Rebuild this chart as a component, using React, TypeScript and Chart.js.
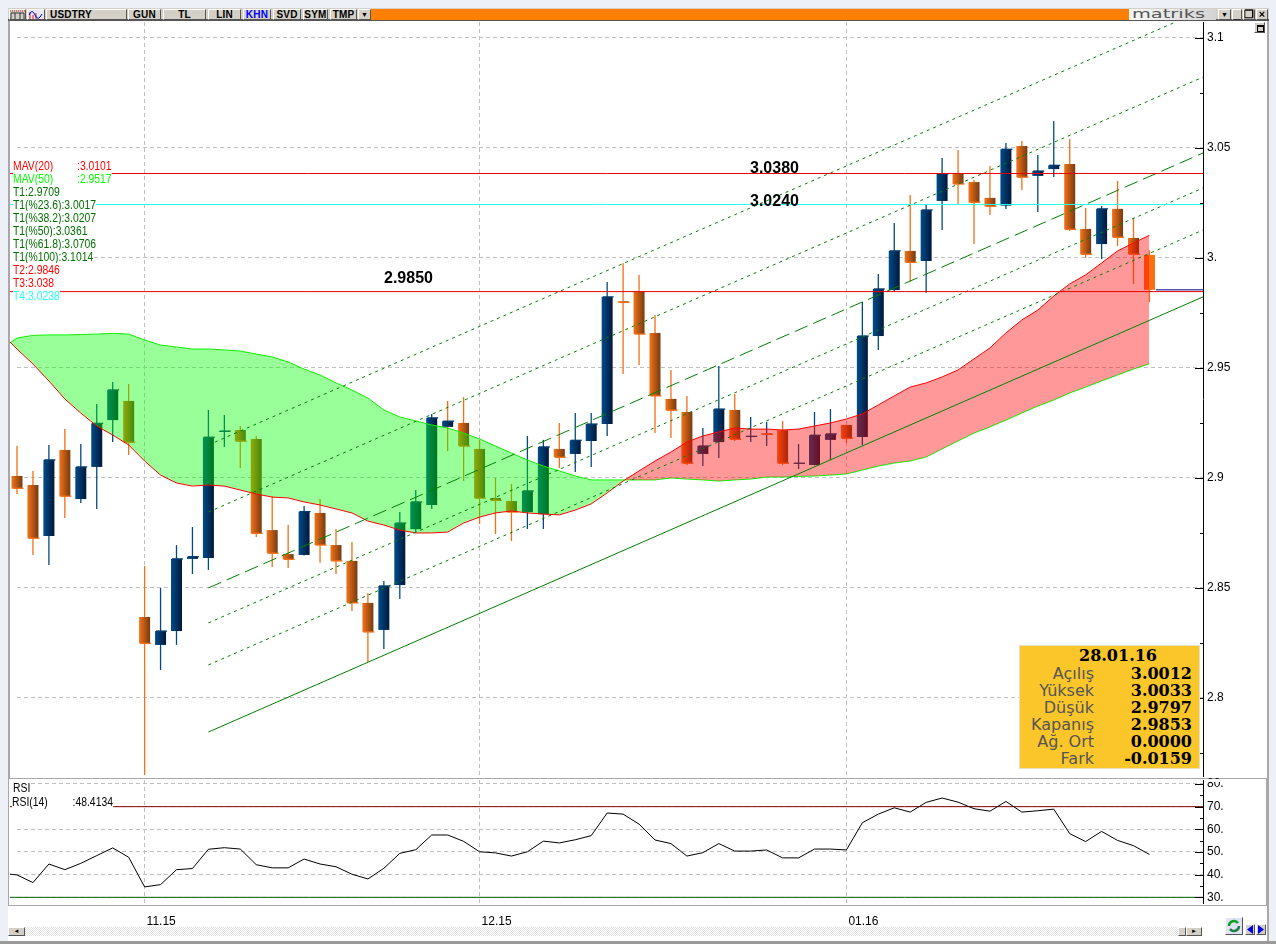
import React, { useEffect, useRef } from "react";
import { Chart, registerables } from "chart.js";

Chart.register(...registerables);

// ---------- data ----------
const opens = [
  2.9007, 2.8966, 2.8734, 2.9125, 2.8902, 2.9048, 2.9261, 2.9348, 2.8366, 2.8239, 2.8302, 2.863,
  2.8634, 2.9207, 2.9216, 2.9175, 2.8761, 2.8652, 2.8648, 2.8839, 2.8693, 2.8621, 2.843, 2.8307,
  2.8511, 2.8765, 2.8875, 2.923, 2.9248, 2.913, 2.8907, 2.8893, 2.8843, 2.8833, 2.913, 2.9107,
  2.9166, 2.9243, 2.9801, 2.9846, 2.9657, 2.9357, 2.9298, 2.9107, 2.9161, 2.9307, 2.9186, 2.9201,
  2.9215, 2.9063, 2.9057, 2.9171, 2.9239, 2.9184, 2.9643, 2.9852, 3.003, 2.9984, 3.0257, 3.038,
  3.0343, 3.0271, 3.0236, 3.0507, 3.0371, 3.0402, 3.0425, 3.013, 3.0061, 3.0221, 3.0089, 3.0012,
];
const closes = [
  2.8951, 2.8724, 2.908, 2.8915, 2.9048, 2.9246, 2.9398, 2.916, 2.8246, 2.8302, 2.863, 2.864,
  2.9183, 2.9211, 2.9165, 2.8746, 2.8656, 2.8628, 2.8845, 2.8693, 2.8621, 2.843, 2.8298, 2.8507,
  2.8793, 2.8889, 2.9271, 2.9256, 2.9143, 2.8906, 2.8896, 2.8843, 2.8939, 2.9139, 2.9092, 2.9169,
  2.9243, 2.9821, 2.9796, 2.9652, 2.9371, 2.9306, 2.9065, 2.9143, 2.9311, 2.9174, 2.9187, 2.9196,
  2.9065, 2.9065, 2.9192, 2.9198, 2.9178, 2.9643, 2.9857, 3.003, 2.9978, 3.0216, 3.038, 3.0334,
  3.0251, 3.0233, 3.0492, 3.0365, 3.0393, 3.0419, 3.0128, 3.0015, 3.0221, 3.0092, 3.0015, 2.9853,
];
const highs = [
  2.9143, 2.903, 2.9148, 2.9221, 2.9152, 2.9334, 2.9434, 2.9425, 2.8598, 2.8498, 2.8693, 2.8775,
  2.9307, 2.9284, 2.9234, 2.9189, 2.8916, 2.8784, 2.8871, 2.8902, 2.8766, 2.8707, 2.8475, 2.853,
  2.8843, 2.8943, 2.9289, 2.9348, 2.9366, 2.9171, 2.8998, 2.8971, 2.9189, 2.9171, 2.9248, 2.9293,
  2.9293, 2.9889, 2.9974, 2.9921, 2.9739, 2.9489, 2.9371, 2.9225, 2.9507, 2.938, 2.9275, 2.9252,
  2.9257, 2.9152, 2.9298, 2.9311, 2.9239, 2.9798, 2.9925, 3.0157, 3.0284, 3.0239, 3.0452, 3.0489,
  3.0352, 3.0416, 3.0521, 3.053, 3.0466, 3.0621, 3.0539, 3.0225, 3.0234, 3.0348, 3.018, 3.0033,
];
const lows = [
  2.8925, 2.8648, 2.8602, 2.8816, 2.8884, 2.8857, 2.9161, 2.9102, 2.7648, 2.8125, 2.8239, 2.8561,
  2.858, 2.9139, 2.9043, 2.873, 2.8593, 2.8589, 2.8645, 2.8613, 2.8561, 2.8393, 2.8161, 2.8221,
  2.8448, 2.8748, 2.8857, 2.9121, 2.8984, 2.8789, 2.8743, 2.8711, 2.8766, 2.8766, 2.9043, 2.9025,
  2.9048, 2.9189, 2.9471, 2.9511, 2.9202, 2.918, 2.9057, 2.9052, 2.9089, 2.9166, 2.9161, 2.9143,
  2.9057, 2.9039, 2.9055, 2.908, 2.9157, 2.9148, 2.958, 2.9848, 2.9889, 2.984, 3.0125, 3.0243,
  3.0061, 3.0193, 3.0221, 3.0307, 3.0207, 3.0366, 3.0121, 2.9998, 2.9993, 3.0052, 2.988, 2.9797,
];
// candles whose wick has the other colour than their body
const blueWickOnOrange = [47];
const orangeWickOnBlue = [27];

// both moving averages start one bar before the first candle
const mav20 = [
  2.9657, 2.9584, 2.9516, 2.9439, 2.9357, 2.9293, 2.9234, 2.9193, 2.9148, 2.9075, 2.9011, 2.8975,
  2.8961, 2.8966, 2.8961, 2.8943, 2.8925, 2.8911, 2.8907, 2.8889, 2.8875, 2.8857, 2.8839, 2.8802,
  2.8784, 2.8761, 2.8748, 2.8748, 2.8752, 2.8793, 2.882, 2.8839, 2.8848, 2.8839, 2.8834, 2.883,
  2.8852, 2.888, 2.893, 2.8984, 2.903, 2.9075, 2.9116, 2.9161, 2.9189, 2.9207, 2.9225, 2.922,
  2.922, 2.9216, 2.922, 2.9234, 2.9248, 2.9266, 2.9289, 2.933, 2.9371, 2.9411, 2.943, 2.9457,
  2.9489, 2.9539, 2.9589, 2.9657, 2.9716, 2.9761, 2.9825, 2.988, 2.9921, 2.9975, 3.003, 3.0066,
  3.0101,
];
const mav50 = [
  2.9584, 2.9634, 2.9646, 2.9648, 2.9648, 2.965, 2.9652, 2.9655, 2.9652, 2.9625, 2.9602, 2.9593,
  2.9584, 2.9584, 2.958, 2.9575, 2.9561, 2.9548, 2.9525, 2.9493, 2.9466, 2.943, 2.9398, 2.9361,
  2.9307, 2.9275, 2.9257, 2.9239, 2.9225, 2.9202, 2.9175, 2.9143, 2.9111, 2.908, 2.9052, 2.903,
  2.9007, 2.8989, 2.8989, 2.8989, 2.8989, 2.8989, 2.8998, 2.8993, 2.8989, 2.8984, 2.8989, 2.8993,
  2.9002, 2.9002, 2.9005, 2.9007, 2.9011, 2.9016, 2.9034, 2.9052, 2.9066, 2.9075, 2.9093, 2.913,
  2.9166, 2.9202, 2.923, 2.9261, 2.9293, 2.9325, 2.9352, 2.9384, 2.9411, 2.9439, 2.9466, 2.9493,
  2.9517,
];
const rsiValues = [
  40.6, 39.9, 36.5, 44.7, 42.2, 45.0, 48.4, 51.8, 47.7, 34.6, 35.6, 42.2, 42.7, 51.2, 51.9, 51.3,
  44.4, 43.0, 43.0, 46.9, 44.7, 43.5, 40.2, 38.1, 42.8, 49.4, 51.0, 57.5, 57.5, 54.7, 50.1, 49.6,
  48.2, 50.1, 54.8, 54.0, 55.4, 57.2, 67.2, 66.7, 62.3, 55.3, 53.7, 48.2, 49.7, 53.7, 50.4, 50.4,
  50.9, 47.4, 47.4, 51.3, 51.3, 50.9, 62.9, 66.7, 69.5, 67.6, 71.9, 73.8, 72.0, 69.1, 68.0, 72.3,
  67.6, 68.2, 68.9, 58.1, 54.6, 59.1, 55.1, 52.8, 48.9,
];
// trend channel: value where each line starts and where it reaches the axis
const channelStarts = [2.7843, 2.8148, 2.8339, 2.8498, 2.8843, 2.9148];
const channelEnds = [2.9821, 3.0125, 3.0316, 3.0475, 3.082, 3.1125];
const channelDashes = [[], [3, 4], [3, 4], [14, 6], [3, 4], [3, 4]];
const levelValues = [3.0382, 3.0241, 2.9845];
const levelColors = ["#e80000", "#22ffee", "#e80000"];
const lastCloseLevel = 2.9853;
const priceMajorTicks = [3.1, 3.05, 3.0, 2.95, 2.9, 2.85, 2.8];
const priceMinorTicks = [3.075, 3.025, 2.975, 2.925, 2.875, 2.825, 2.775];
const rsiMajorTicks = [80, 70, 60, 50, 40, 30];
const rsiMinorTicks = [75, 65, 55, 45, 35];
const monthIndexes = [8, 29, 52];
const monthLabels = ["11.15", "12.15", "01.16"];
const legendRows: [string, string, string][] = [
  ["MAV(20)", ":3.0101", "#ff0000"],
  ["MAV(50)", ":2.9517", "#00ff00"],
  ["T1:2.9709", "", "#007000"],
  ["T1(%23.6):3.0017", "", "#007000"],
  ["T1(%38.2):3.0207", "", "#007000"],
  ["T1(%50):3.0361", "", "#007000"],
  ["T1(%61.8):3.0706", "", "#007000"],
  ["T1(%100):3.1014", "", "#007000"],
  ["T2:2.9846", "", "#ff0000"],
  ["T3:3.038", "", "#ff0000"],
  ["T4:3.0238", "", "#22ffff"],
];
const infoRows: [string, string][] = [
  ["Açılış", "3.0012"],
  ["Yüksek", "3.0033"],
  ["Düşük", "2.9797"],
  ["Kapanış", "2.9853"],
  ["Ağ. Ort", "0.0000"],
  ["Fark", "-0.0159"],
];
const toolbarButtons: [string, number, number, string][] = [
  ["USDTRY", 46, 81, "#000"],
  ["GUN", 128, 33, "#000"],
  ["TL", 163, 43, "#000"],
  ["LIN", 208, 33, "#000"],
  ["KHN", 243, 28, "#0000ff"],
  ["SVD", 273, 28, "#000"],
  ["SYM", 303, 25, "#000"],
  ["TMP", 330, 27, "#000"],
];
const priceLabels: [string, number, number][] = [
  ["3.0380", 750, 168],
  ["3.0240", 750, 201],
  ["2.9850", 384, 278],
];

// ---------- scale limits ----------
const X_MIN = -0.4389;
const X_MAX = 74.357;
const PRICE_MIN = 2.76432;
const PRICE_MAX = 3.10705;
const RSI_MIN = 27.5;
const RSI_MAX = 81.76;
const LAST = closes.length - 1;
const TICK_FONT = { family: '"Liberation Sans Narrow", "Liberation Sans", Arial, sans-serif', size: 12 };

const tickText = (v: number) => {
  const s = String(Number(v.toFixed(3)));
  return s.includes(".") ? s : s + ".";
};

const bodyFill = (c: any) => {
  const i = c.dataIndex;
  if (i === undefined) return "#004c8a";
  if (i === LAST) return "#f87010";
  const x = c.chart.scales.x?.getPixelForValue(i);
  const down = closes[i] < opens[i];
  if (!Number.isFinite(x)) return down ? "#b05014" : "#003060";
  const g = c.chart.ctx.createLinearGradient(x - 5.5, 0, x + 5.5, 0);
  if (down) {
    g.addColorStop(0, "#f47318");
    g.addColorStop(1, "#763a10");
  } else {
    g.addColorStop(0, "#004c8a");
    g.addColorStop(1, "#00183a");
  }
  return g;
};

const wickColor = (i: number) => {
  let up = closes[i] >= opens[i];
  if (blueWickOnOrange.includes(i)) up = true;
  if (orangeWickOnBlue.includes(i)) up = false;
  return up ? "#004a80" : "#f56f14";
};

const axisDetails = (majors: number[]) => ({
  id: "axisDetails",
  beforeDatasetsDraw(chart: any) {
    const { ctx, chartArea } = chart;
    ctx.save();
    ctx.fillStyle = "#fff";
    ctx.fillRect(chartArea.left, chartArea.top, 6, chartArea.bottom - chartArea.top);
    ctx.restore();
  },
  afterDatasetsDraw(chart: any) {
    const { ctx, chartArea, scales } = chart;
    ctx.save();
    ctx.strokeStyle = "#000";
    ctx.lineWidth = 1;
    scales.y.ticks.forEach((t: any) => {
      const y = Math.round(scales.y.getPixelForValue(t.value)) + 0.5;
      const len = majors.includes(t.value) ? 8 : 3;
      ctx.beginPath();
      ctx.moveTo(chartArea.right - len, y);
      ctx.lineTo(chartArea.right, y);
      ctx.stroke();
    });
    ctx.restore();
  },
});

const fixedAxes = (majors: number[], minors: number[], min: number, max: number, xExtra: any) => ({
  x: {
    type: "linear",
    min: X_MIN,
    max: X_MAX,
    offset: false,
    afterBuildTicks: (s: any) => {
      s.ticks = monthIndexes.map((value) => ({ value }));
    },
    grid: { color: "#c0c0c0", drawTicks: false, lineWidth: 1, offset: false },
    border: { display: false, dash: [4, 3] },
    ...xExtra,
  },
  y: {
    type: "linear",
    position: "right",
    min,
    max,
    afterBuildTicks: (s: any) => {
      s.ticks = [...majors, ...minors].sort((a, b) => b - a).map((value) => ({ value }));
    },
    afterFit: (s: any) => {
      s.width = 73;
    },
    grid: {
      drawTicks: false,
      lineWidth: 1,
      color: (c: any) => (c.tick && majors.includes(c.tick.value) ? "#c0c0c0" : "rgba(0,0,0,0)"),
    },
    border: { display: true, color: "#000", width: 1, dash: [4, 3] },
    ticks: {
      autoSkip: false,
      padding: 4,
      color: "#000",
      font: TICK_FONT,
      callback: (v: number) => (majors.includes(v) ? tickText(v) : ""),
    },
  },
});

const Box = ({ style, children }: any) => (
  <div style={{ position: "absolute", boxSizing: "border-box", ...style }}>{children}</div>
);

const raised = {
  background: "#d4d0c8",
  borderTop: "1px solid #fff",
  borderLeft: "1px solid #fff",
  borderRight: "1px solid #555",
  borderBottom: "1px solid #555",
};

export default function App() {
  const mainRef = useRef<HTMLCanvasElement>(null);
  const rsiRef = useRef<HTMLCanvasElement>(null);

  useEffect(() => {
    const idx = closes.map((_, i) => i);
    const datasets: any[] = [
      {
        type: "bar",
        label: "wick",
        order: 7,
        grouped: false,
        barThickness: 1.3,
        inflateAmount: 0,
        backgroundColor: idx.map(wickColor),
        data: idx.map((i) => ({ x: i, y: [lows[i], highs[i]] })),
      },
      {
        type: "bar",
        label: "body",
        order: 6,
        grouped: false,
        barThickness: 11,
        inflateAmount: 0,
        backgroundColor: bodyFill,
        data: idx.map((i) => ({ x: i, y: [Math.min(opens[i], closes[i]), Math.max(opens[i], closes[i])] })),
      },
      {
        type: "bar",
        label: "close",
        order: 5,
        grouped: false,
        barThickness: 11,
        inflateAmount: 0,
        backgroundColor: idx.slice(0, LAST).map((i) => (closes[i] < opens[i] ? "#f56f14" : "#003c70")),
        data: idx.slice(0, LAST).map((i) => ({ x: i + 0.06, y: [closes[i] - 0.0003, closes[i] + 0.0003] })),
      },
      {
        type: "line",
        label: "MAV(50)",
        order: 4,
        borderColor: "#00ff00",
        borderWidth: 1,
        pointRadius: 0,
        tension: 0,
        fill: false,
        data: mav50.map((y, i) => ({ x: i - 1, y })),
      },
      {
        type: "line",
        label: "MAV(20)",
        order: 3,
        borderColor: "#ff0000",
        borderWidth: 1,
        pointRadius: 0,
        tension: 0,
        fill: { target: 3, above: "rgba(255,0,0,0.4)", below: "rgba(0,255,0,0.4)" },
        data: mav20.map((y, i) => ({ x: i - 1, y })),
      },
      ...channelStarts.map((s, k) => ({
        type: "line",
        label: "T1-" + k,
        order: 2,
        borderColor: "#008000",
        borderWidth: 1,
        borderDash: channelDashes[k],
        pointRadius: 0,
        fill: false,
        data: [
          { x: 12, y: s },
          { x: X_MAX, y: channelEnds[k] },
        ],
      })),
      ...levelValues.map((v, k) => ({
        type: "line",
        label: "level-" + k,
        order: 1,
        borderColor: levelColors[k],
        borderWidth: 1,
        pointRadius: 0,
        fill: false,
        data: [
          { x: X_MIN, y: v },
          { x: X_MAX, y: v },
        ],
      })),
      {
        type: "line",
        label: "last",
        order: 1,
        borderColor: "#000080",
        borderWidth: 1,
        pointRadius: 0,
        fill: false,
        data: [
          { x: 71.4, y: lastCloseLevel },
          { x: X_MAX, y: lastCloseLevel },
        ],
      },
    ];

    const main = new Chart(mainRef.current as any, {
      type: "bar",
      data: { datasets },
      plugins: [axisDetails(priceMajorTicks)],
      options: {
        animation: false,
        responsive: false,
        events: [],
        layout: { padding: { left: 10, top: 22, right: 0, bottom: 12 } },
        plugins: { legend: { display: false }, tooltip: { enabled: false } },
        scales: fixedAxes(priceMajorTicks, priceMinorTicks, PRICE_MIN, PRICE_MAX, {
          ticks: { display: false },
          afterFit: (s: any) => {
            s.height = 0;
          },
        }) as any,
      },
    } as any);

    const rsi = new Chart(rsiRef.current as any, {
      type: "line",
      data: {
        datasets: [
          {
            label: "RSI(14)",
            borderColor: "#000",
            borderWidth: 1,
            pointRadius: 0,
            tension: 0,
            data: rsiValues.map((y, i) => ({ x: i - 1, y })),
          },
          {
            label: "70",
            borderColor: "#800000",
            borderWidth: 1,
            pointRadius: 0,
            data: [
              { x: X_MIN, y: 70 },
              { x: X_MAX, y: 70 },
            ],
          },
          {
            label: "30",
            borderColor: "#006000",
            borderWidth: 1,
            pointRadius: 0,
            data: [
              { x: X_MIN, y: 30 },
              { x: X_MAX, y: 30 },
            ],
          },
        ],
      },
      plugins: [axisDetails(rsiMajorTicks)],
      options: {
        animation: false,
        responsive: false,
        events: [],
        layout: { padding: { left: 10, top: 12, right: 0, bottom: 0 } },
        plugins: { legend: { display: false }, tooltip: { enabled: false } },
        scales: fixedAxes(rsiMajorTicks, rsiMinorTicks, RSI_MIN, RSI_MAX, {
          afterFit: (s: any) => {
            s.height = 39;
          },
          ticks: {
            autoSkip: false,
            maxRotation: 0,
            align: "start",
            labelOffset: 2,
            padding: 11,
            color: "#000",
            font: TICK_FONT,
            callback: (v: number) => monthLabels[monthIndexes.indexOf(v)] ?? "",
          },
        }) as any,
      },
    } as any);

    return () => {
      main.destroy();
      rsi.destroy();
    };
  }, []);

  return (
    <div
      style={{
        position: "fixed",
        left: 0,
        top: 0,
        width: 1276,
        height: 944,
        overflow: "hidden",
        background: "#eef0f7",
        fontFamily: '"Liberation Sans", Arial, sans-serif',
      }}
    >
      {/* panels */}
      <Box style={{ left: 8, top: 20, width: 1261, height: 922, background: "#fff", borderRight: "2px solid #a8a8a8" }} />
      <Box style={{ left: 8, top: 20, width: 2, height: 758, background: "#a8a8a8" }} />
      <Box style={{ left: 8, top: 778, width: 1260, height: 128, border: "1px solid #a8a8a8", borderRightWidth: 2 }} />
      <canvas ref={mainRef} width={1276} height={788} style={{ position: "absolute", left: 0, top: 0, display: "block" }} />
      <canvas ref={rsiRef} width={1276} height={174} style={{ position: "absolute", left: 0, top: 768, display: "block" }} />
      <Box style={{ left: 1205, top: 779, width: 30, height: 3, background: "#fff" }} />

      {/* toolbar */}
      <Box style={{ left: 8, top: 8, width: 1261, height: 13, background: "#d4d0c8", borderBottom: "2px solid #555" }} />
      <Box style={{ left: 371, top: 9, width: 758, height: 11, background: "#ff8000" }} />
      <Box style={{ left: 9, top: 9, width: 17, height: 11, ...raised }}>
        <svg width="15" height="9" style={{ display: "block" }}>
          <path d="M0 1H15" stroke="#d02020" strokeDasharray="1 1" />
          <path d="M1 3H14M1 3V9M5 3V9M10 3V9M14 3V9" stroke="#333" fill="none" />
        </svg>
      </Box>
      <Box style={{ left: 27, top: 9, width: 18, height: 11, ...raised, background: "#e8e8f0" }}>
        <svg width="16" height="9" style={{ display: "block" }}>
          <path d="M2 2V9M5 5V9M8 3V9" stroke="#d02020" />
          <path d="M1 5Q4 -2 7 5T14 4" stroke="#0000c0" fill="none" />
        </svg>
      </Box>
      {toolbarButtons.map(([t, x, w, c]) => (
        <Box
          key={t}
          style={{
            left: x,
            top: 9,
            width: w,
            height: 11,
            ...raised,
            color: c,
            fontWeight: 700,
            fontSize: 10,
            lineHeight: "10px",
            textAlign: t === "USDTRY" ? "left" : "center",
            paddingLeft: t === "USDTRY" ? 3 : 0,
            letterSpacing: 0.2,
          }}
        >
          {t}
        </Box>
      ))}
      <Box style={{ left: 358, top: 9, width: 13, height: 11, ...raised, color: "#000", fontSize: 7, lineHeight: "9px", textAlign: "center" }}>▼</Box>
      <Box style={{ left: 1129, top: 9, width: 87, height: 11, background: "linear-gradient(90deg,#f8f8f8,#d4d4d4)", overflow: "hidden" }}>
        <div
          style={{
            position: "absolute",
            left: 3,
            top: 0,
            color: "#555",
            fontFamily: '"DejaVu Sans", sans-serif',
            fontSize: 13,
            lineHeight: "10px",
            transform: "scaleX(1.49)",
            transformOrigin: "left",
          }}
        >
          matriks
        </div>
      </Box>
      {[
        ["▼", 1218, 13],
        ["_", 1232, 10],
        ["❐", 1243, 12],
        ["×", 1256, 12],
      ].map(([t, x, w]: any) => (
        <Box key={t} style={{ left: x, top: 9, width: w, height: 11, ...raised, color: "#000", fontSize: t === "▼" ? 7 : 11, fontWeight: 700, lineHeight: "9px", textAlign: "center" }}>
          {t}
        </Box>
      ))}
      <Box style={{ left: 1254, top: 22, width: 11, height: 11, ...raised, padding: 2 }}>
        <div style={{ width: 5, height: 4, border: "1px solid #000", borderTopWidth: 2 }} />
      </Box>

      {/* indicator legend */}
      {legendRows.map(([a, b, color], k) => (
        <Box
          key={a}
          style={{
            left: 13,
            top: 158.5 + k * 13,
            height: 15,
            lineHeight: "15px",
            fontSize: 12,
            color,
            background: "#fff",
            whiteSpace: "nowrap",
            transform: "scaleX(0.865)",
            transformOrigin: "left",
          }}
        >
          <span style={{ display: "inline-block", width: b ? 74 : "auto" }}>{a}</span>
          {b}
        </Box>
      ))}

      {/* price labels */}
      {priceLabels.map(([t, x, y]) => (
        <Box key={t} style={{ left: x, top: y - 10, height: 20, lineHeight: "20px", fontWeight: 700, fontSize: 16, color: "#000" }}>
          {t}
        </Box>
      ))}

      {/* info box */}
      <Box style={{ left: 1019, top: 645, width: 181, height: 124, background: "#fbc62a", border: "1px solid #e8e0c0" }}>
        <div
          style={{
            position: "absolute",
            left: 0,
            right: 0,
            top: 1,
            textAlign: "center",
            fontFamily: '"DejaVu Serif", serif',
            fontWeight: 700,
            fontSize: 16,
            lineHeight: "18px",
            color: "#000",
            paddingLeft: 17,
          }}
        >
          28.01.16
        </div>
        {infoRows.map(([l, v], k) => (
          <React.Fragment key={l}>
            <div
              style={{
                position: "absolute",
                right: 105,
                top: 19 + k * 17,
                fontFamily: '"DejaVu Sans", sans-serif',
                fontSize: 16,
                lineHeight: "17px",
                color: "#555",
                whiteSpace: "nowrap",
              }}
            >
              {l}
            </div>
            <div
              style={{
                position: "absolute",
                right: 7,
                top: 19 + k * 17,
                fontFamily: '"DejaVu Serif", serif',
                fontWeight: 700,
                fontSize: 16,
                lineHeight: "17px",
                color: "#000",
              }}
            >
              {v}
            </div>
          </React.Fragment>
        ))}
      </Box>

      {/* RSI legend */}
      <Box style={{ left: 13, top: 781, height: 14, lineHeight: "14px", fontSize: 12, background: "#fff", color: "#000", transform: "scaleX(0.865)", transformOrigin: "left" }}>RSI</Box>
      <Box style={{ left: 12, top: 795, height: 14, lineHeight: "14px", fontSize: 12, background: "#fff", color: "#000", whiteSpace: "nowrap", transform: "scaleX(0.865)", transformOrigin: "left" }}>
        <span style={{ display: "inline-block", width: 70 }}>RSI(14)</span>:48.4134
      </Box>

      {/* bottom bar */}
      <Box style={{ left: 24, top: 927, width: 1154, height: 9, background: "repeating-conic-gradient(#e2e2e2 0 25%, #fff 0 50%) 0 0/2px 2px" }} />
      <Box style={{ left: 8, top: 927, width: 17, height: 9, ...raised, fontSize: 6, lineHeight: "7px", textAlign: "center", color: "#000" }}>◄</Box>
      <Box style={{ left: 1178, top: 927, width: 8, height: 9, ...raised }} />
      <Box style={{ left: 1186, top: 927, width: 16, height: 9, ...raised, fontSize: 6, lineHeight: "7px", textAlign: "center", color: "#000" }}>►</Box>
      <Box style={{ left: 1225, top: 917, width: 18, height: 18, ...raised, background: "#dfe3f5", padding: 1 }}>
        <svg width="14" height="14" style={{ display: "block" }}>
          <path d="M2 7A5 5 0 0 1 11 4" stroke="#10a020" strokeWidth="2.5" fill="none" />
          <path d="M12 7A5 5 0 0 1 3 10" stroke="#208040" strokeWidth="2.5" fill="none" />
        </svg>
      </Box>
      <Box style={{ left: 1245, top: 924, width: 10, height: 11, ...raised }}>
        <svg width="8" height="9" style={{ display: "block" }}>
          <path d="M7 0V9L1 4.5Z" fill="#0000e0" />
        </svg>
      </Box>
      <Box style={{ left: 1256, top: 924, width: 10, height: 11, ...raised }}>
        <svg width="8" height="9" style={{ display: "block" }}>
          <path d="M1 0V9L7 4.5Z" fill="#0000e0" />
        </svg>
      </Box>
      <Box style={{ left: 0, top: 941, width: 1276, height: 3, background: "#9a9a9a" }} />
    </div>
  );
}
